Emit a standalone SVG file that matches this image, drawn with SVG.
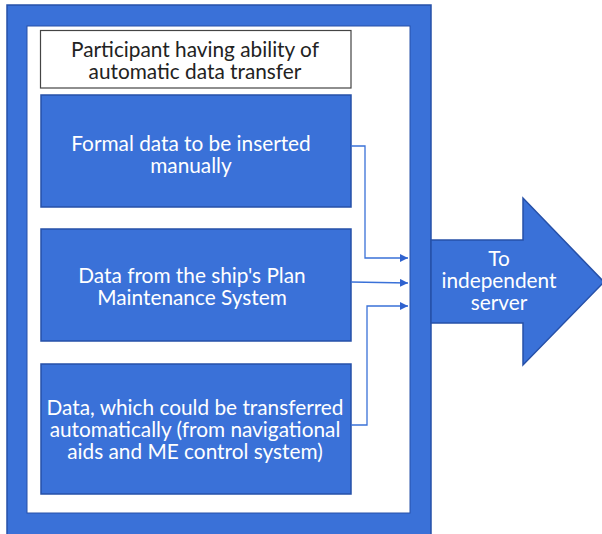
<svg xmlns="http://www.w3.org/2000/svg" width="602" height="534" viewBox="0 0 602 534">
<defs>
<marker id="ah" viewBox="0 0 10 10" refX="10" refY="5" markerWidth="8" markerHeight="8" markerUnits="userSpaceOnUse" orient="auto">
<path d="M0,0 L10,5 L0,10 z" fill="#2f62cf"/>
</marker>
</defs>
<style>
.blue{fill:#3a71d8;stroke:#2650a8;stroke-width:1.5}
.t{font-family:Lato,"Open Sans","Liberation Sans",sans-serif;font-size:20.8px;text-anchor:middle;fill:#ffffff}
.d{fill:#222222}
.c{fill:none;stroke:#3a71d8;stroke-width:1.3;marker-end:url(#ah)}
</style>
<g id="frame">
<rect x="7" y="5" width="424" height="535" class="blue"/>
<rect x="27" y="26" width="383" height="487" fill="#ffffff" stroke="#2650a8" stroke-width="1"/>
</g>
<g id="header">
<rect x="40.5" y="30.5" width="310.5" height="57.5" fill="#ffffff" stroke="#444444" stroke-width="1.2"/>
<text class="t d" x="195" y="57">Participant having ability of<tspan x="195" dy="22">automatic data transfer</tspan></text>
</g>
<g id="box1">
<rect x="41" y="95" width="310" height="112" class="blue"/>
<text class="t" x="191" y="151">Formal data to be inserted<tspan x="191" dy="22">manually</tspan></text>
</g>
<g id="box2">
<rect x="41" y="229" width="310" height="112" class="blue"/>
<text class="t" x="192" y="283">Data from the ship's Plan<tspan x="192" dy="22">Maintenance System</tspan></text>
</g>
<g id="box3">
<rect x="41" y="364" width="310" height="130" class="blue"/>
<text class="t" x="195" y="415">Data, which could be transferred<tspan x="195" dy="22">automatically (from navigational</tspan><tspan x="195" dy="22">aids and ME control system)</tspan></text>
</g>
<g id="server">
<path d="M431,240 L523,240 L523,198 L604,282 L523,365 L523,323 L431,323 Z" class="blue"/>
<text class="t" x="499" y="266">To<tspan x="499" dy="22">independent</tspan><tspan x="499" dy="22">server</tspan></text>
</g>
<g id="connectors">
<path d="M351,146 L365,146 L365,258 L408,258" class="c"/>
<path d="M351,282 L408,283" class="c"/>
<path d="M351,425 L367,425 L367,306 L408,306" class="c"/>
</g>
</svg>
